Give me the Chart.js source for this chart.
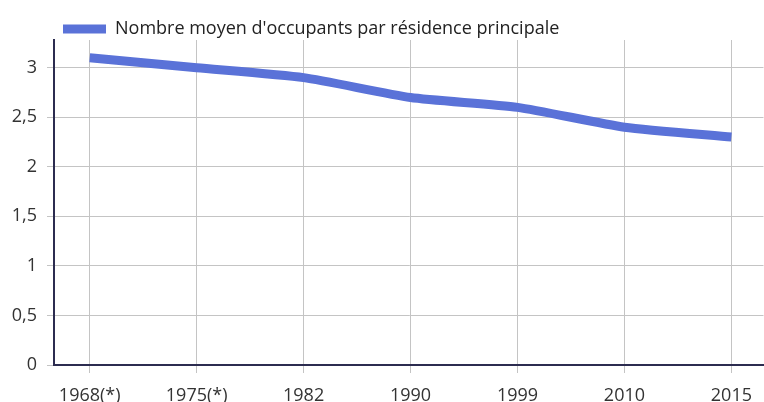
<!DOCTYPE html>
<html><head><meta charset="utf-8">
<script src="https://cdn.jsdelivr.net/npm/chart.js@4/dist/chart.umd.min.js"></script>
<style>html,body{margin:0;padding:0;background:#fff}#wrap{width:764px;height:402px}</style>
</head><body><div id="wrap"><canvas id="c" width="764" height="402"></canvas></div>
<script>
const categories = ["1968(*)", "1975(*)", "1982", "1990", "1999", "2010", "2015"];
const occupants = [3.1, 3.0, 2.9, 2.7, 2.6, 2.4, 2.3];
const seriesLabel = "Nombre moyen d'occupants par résidence principale";
const yTicks = [0, 0.5, 1, 1.5, 2, 2.5, 3];

const points = categories.map((c, i) => ({x: i, y: occupants[i]}));
Chart.defaults.font.family = "'Open Sans', sans-serif";
Chart.defaults.color = '#333';
new Chart(document.getElementById('c'), {
  type: 'line',
  data: { datasets: [{
    label: seriesLabel, data: points,
    borderColor: '#5a72d8', backgroundColor: '#5a72d8',
    borderWidth: 9, pointRadius: 0, tension: 0.2, borderCapStyle: 'butt'
  }]},
  options: {
    responsive: false, animation: false,
    layout: { padding: { top: 11, right: 0, left: 0, bottom: 0 } },
    plugins: {
      tooltip: { enabled: false },
      legend: {
        fullSize: false, align: 'start', maxHeight: 29,
        labels: { boxWidth: 43, boxHeight: 9, padding: 9, font: { size: 18 }, color: '#222',
          generateLabels: ch => Chart.defaults.plugins.legend.labels.generateLabels(ch)
            .map(it => Object.assign(it, { lineWidth: 0 })) }
      }
    },
    scales: {
      x: {
        type: 'linear', min: -0.334, max: 6.30,
        afterFit: s => { s.height = 37; },
        afterBuildTicks: s => { s.ticks = categories.map((c, i) => ({value: i})); },
        ticks: { includeBounds: false, autoSkip: false, maxRotation: 0, stepSize: 1, padding: 12, font: { size: 18 },
          callback: v => categories[v] },
        grid: { color: '#c4c4c4', lineWidth: 1, tickLength: 8, drawTicks: true },
        border: { color: '#2c2c50', width: 2 }
      },
      y: {
        min: 0, max: 3.28,
        afterFit: s => { s.width = 54; },
        afterBuildTicks: s => { s.ticks = yTicks.map(v => ({value: v})); },
        ticks: { padding: 10, font: { size: 18 },
          callback: v => String(v).replace('.', ',') },
        grid: { color: '#c4c4c4', lineWidth: 1, tickLength: 7 },
        border: { color: '#2c2c50', width: 2 }
      }
    }
  }
});
</script></body></html>
